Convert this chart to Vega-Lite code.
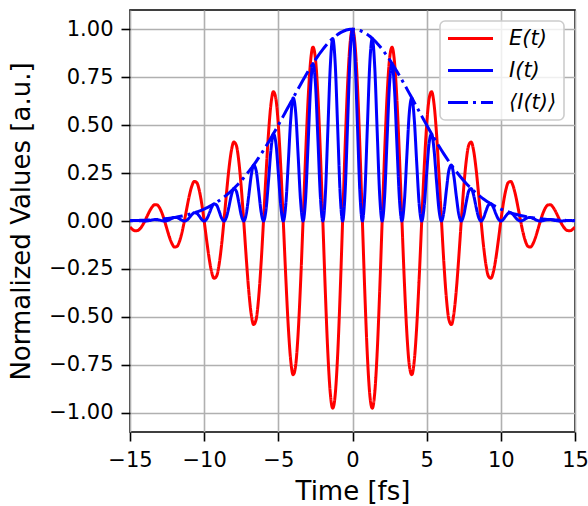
{
  "$schema": "https://vega.github.io/schema/vega-lite/v6.json",
  "width": 445,
  "height": 422,
  "autosize": {"type": "none"},
  "padding": {"left": 130, "top": 10, "right": 13, "bottom": 74},
  "background": "white",
  "data": {"values": [
    {"t":-15,"E":-0.0313,"I":0.001,"Env":0.002},
    {"t":-14.8333,"E":-0.0438,"I":0.0019,"Env":0.0022},
    {"t":-14.6667,"E":-0.0507,"I":0.0026,"Env":0.0026},
    {"t":-14.5,"E":-0.0501,"I":0.0025,"Env":0.0029},
    {"t":-14.3333,"E":-0.041,"I":0.0017,"Env":0.0034},
    {"t":-14.1667,"E":-0.0237,"I":0.0006,"Env":0.0038},
    {"t":-14,"E":0,"I":0,"Env":0.0044},
    {"t":-13.8333,"E":0.027,"I":0.0007,"Env":0.005},
    {"t":-13.6667,"E":0.0531,"I":0.0028,"Env":0.0056},
    {"t":-13.5,"E":0.0739,"I":0.0055,"Env":0.0064},
    {"t":-13.3333,"E":0.0851,"I":0.0072,"Env":0.0072},
    {"t":-13.1667,"E":0.0835,"I":0.007,"Env":0.0082},
    {"t":-13,"E":0.0679,"I":0.0046,"Env":0.0092},
    {"t":-12.8333,"E":0.039,"I":0.0015,"Env":0.0104},
    {"t":-12.6667,"E":0,"I":0,"Env":0.0117},
    {"t":-12.5,"E":-0.0439,"I":0.0019,"Env":0.0131},
    {"t":-12.3333,"E":-0.0858,"I":0.0074,"Env":0.0147},
    {"t":-12.1667,"E":-0.1187,"I":0.0141,"Env":0.0165},
    {"t":-12,"E":-0.1358,"I":0.0185,"Env":0.0185},
    {"t":-11.8333,"E":-0.1326,"I":0.0176,"Env":0.0206},
    {"t":-11.6667,"E":-0.1072,"I":0.0115,"Env":0.023},
    {"t":-11.5,"E":-0.0612,"I":0.0037,"Env":0.0256},
    {"t":-11.3333,"E":0,"I":0,"Env":0.0284},
    {"t":-11.1667,"E":0.0679,"I":0.0046,"Env":0.0315},
    {"t":-11,"E":0.1321,"I":0.0175,"Env":0.0349},
    {"t":-10.8333,"E":0.1816,"I":0.033,"Env":0.0386},
    {"t":-10.6667,"E":0.2065,"I":0.0427,"Env":0.0427},
    {"t":-10.5,"E":0.2004,"I":0.0402,"Env":0.047},
    {"t":-10.3333,"E":0.1609,"I":0.0259,"Env":0.0518},
    {"t":-10.1667,"E":0.0913,"I":0.0083,"Env":0.0569},
    {"t":-10,"E":0,"I":0,"Env":0.0625},
    {"t":-9.8333,"E":-0.1002,"I":0.01,"Env":0.0685},
    {"t":-9.6667,"E":-0.1936,"I":0.0375,"Env":0.075},
    {"t":-9.5,"E":-0.2644,"I":0.0699,"Env":0.0819},
    {"t":-9.3333,"E":-0.2989,"I":0.0894,"Env":0.0894},
    {"t":-9.1667,"E":-0.2882,"I":0.0831,"Env":0.0973},
    {"t":-9,"E":-0.2301,"I":0.0529,"Env":0.1059},
    {"t":-8.8333,"E":-0.1297,"I":0.0168,"Env":0.1149},
    {"t":-8.6667,"E":0,"I":0,"Env":0.1246},
    {"t":-8.5,"E":0.1406,"I":0.0198,"Env":0.1349},
    {"t":-8.3333,"E":0.27,"I":0.0729,"Env":0.1458},
    {"t":-8.1667,"E":0.3665,"I":0.1343,"Env":0.1574},
    {"t":-8,"E":0.4118,"I":0.1696,"Env":0.1696},
    {"t":-7.8333,"E":0.3946,"I":0.1557,"Env":0.1825},
    {"t":-7.6667,"E":0.313,"I":0.098,"Env":0.196},
    {"t":-7.5,"E":0.1755,"I":0.0308,"Env":0.2102},
    {"t":-7.3333,"E":0,"I":0,"Env":0.2251},
    {"t":-7.1667,"E":-0.1878,"I":0.0353,"Env":0.2408},
    {"t":-7,"E":-0.3585,"I":0.1285,"Env":0.257},
    {"t":-6.8333,"E":-0.4836,"I":0.2339,"Env":0.274},
    {"t":-6.6667,"E":-0.54,"I":0.2916,"Env":0.2916},
    {"t":-6.5,"E":-0.5143,"I":0.2645,"Env":0.3099},
    {"t":-6.3333,"E":-0.4055,"I":0.1644,"Env":0.3289},
    {"t":-6.1667,"E":-0.2259,"I":0.051,"Env":0.3484},
    {"t":-6,"E":0,"I":0,"Env":0.3686},
    {"t":-5.8333,"E":0.2388,"I":0.057,"Env":0.3893},
    {"t":-5.6667,"E":0.4531,"I":0.2053,"Env":0.4105},
    {"t":-5.5,"E":0.6074,"I":0.369,"Env":0.4323},
    {"t":-5.3333,"E":0.6741,"I":0.4545,"Env":0.4545},
    {"t":-5.1667,"E":0.6381,"I":0.4072,"Env":0.4771},
    {"t":-5,"E":0.5,"I":0.25,"Env":0.5},
    {"t":-4.8333,"E":0.2768,"I":0.0766,"Env":0.5233},
    {"t":-4.6667,"E":0,"I":0,"Env":0.5467},
    {"t":-4.5,"E":-0.289,"I":0.0835,"Env":0.5704},
    {"t":-4.3333,"E":-0.5451,"I":0.2971,"Env":0.5942},
    {"t":-4.1667,"E":-0.7263,"I":0.5275,"Env":0.618},
    {"t":-4,"E":-0.8011,"I":0.6417,"Env":0.6417},
    {"t":-3.8333,"E":-0.7536,"I":0.5679,"Env":0.6654},
    {"t":-3.6667,"E":-0.5869,"I":0.3444,"Env":0.6888},
    {"t":-3.5,"E":-0.3229,"I":0.1043,"Env":0.712},
    {"t":-3.3333,"E":0,"I":0,"Env":0.7349},
    {"t":-3.1667,"E":0.333,"I":0.1109,"Env":0.7573},
    {"t":-3,"E":0.6242,"I":0.3896,"Env":0.7792},
    {"t":-2.8333,"E":0.8266,"I":0.6832,"Env":0.8005},
    {"t":-2.6667,"E":0.9061,"I":0.8211,"Env":0.8211},
    {"t":-2.5,"E":0.8472,"I":0.7178,"Env":0.8409},
    {"t":-2.3333,"E":0.6557,"I":0.4299,"Env":0.8599},
    {"t":-2.1667,"E":0.3586,"I":0.1286,"Env":0.878},
    {"t":-2,"E":0,"I":0,"Env":0.895},
    {"t":-1.8333,"E":-0.3653,"I":0.1334,"Env":0.911},
    {"t":-1.6667,"E":-0.6804,"I":0.4629,"Env":0.9259},
    {"t":-1.5,"E":-0.8955,"I":0.8019,"Env":0.9395},
    {"t":-1.3333,"E":-0.9757,"I":0.9519,"Env":0.9519},
    {"t":-1.1667,"E":-0.9066,"I":0.8219,"Env":0.963},
    {"t":-1,"E":-0.6974,"I":0.4863,"Env":0.9727},
    {"t":-0.8333,"E":-0.379,"I":0.1437,"Env":0.9809},
    {"t":-0.6667,"E":0,"I":0,"Env":0.9878},
    {"t":-0.5,"E":0.3814,"I":0.1454,"Env":0.9931},
    {"t":-0.3333,"E":0.706,"I":0.4985,"Env":0.9969},
    {"t":-0.1667,"E":0.9235,"I":0.8529,"Env":0.9992},
    {"t":0,"E":1,"I":1,"Env":1},
    {"t":0.1667,"E":0.9235,"I":0.8529,"Env":0.9992},
    {"t":0.3333,"E":0.706,"I":0.4985,"Env":0.9969},
    {"t":0.5,"E":0.3814,"I":0.1454,"Env":0.9931},
    {"t":0.6667,"E":0,"I":0,"Env":0.9878},
    {"t":0.8333,"E":-0.379,"I":0.1437,"Env":0.9809},
    {"t":1,"E":-0.6974,"I":0.4863,"Env":0.9727},
    {"t":1.1667,"E":-0.9066,"I":0.8219,"Env":0.963},
    {"t":1.3333,"E":-0.9757,"I":0.9519,"Env":0.9519},
    {"t":1.5,"E":-0.8955,"I":0.8019,"Env":0.9395},
    {"t":1.6667,"E":-0.6804,"I":0.4629,"Env":0.9259},
    {"t":1.8333,"E":-0.3653,"I":0.1334,"Env":0.911},
    {"t":2,"E":0,"I":0,"Env":0.895},
    {"t":2.1667,"E":0.3586,"I":0.1286,"Env":0.878},
    {"t":2.3333,"E":0.6557,"I":0.4299,"Env":0.8599},
    {"t":2.5,"E":0.8472,"I":0.7178,"Env":0.8409},
    {"t":2.6667,"E":0.9061,"I":0.8211,"Env":0.8211},
    {"t":2.8333,"E":0.8266,"I":0.6832,"Env":0.8005},
    {"t":3,"E":0.6242,"I":0.3896,"Env":0.7792},
    {"t":3.1667,"E":0.333,"I":0.1109,"Env":0.7573},
    {"t":3.3333,"E":0,"I":0,"Env":0.7349},
    {"t":3.5,"E":-0.3229,"I":0.1043,"Env":0.712},
    {"t":3.6667,"E":-0.5869,"I":0.3444,"Env":0.6888},
    {"t":3.8333,"E":-0.7536,"I":0.5679,"Env":0.6654},
    {"t":4,"E":-0.8011,"I":0.6417,"Env":0.6417},
    {"t":4.1667,"E":-0.7263,"I":0.5275,"Env":0.618},
    {"t":4.3333,"E":-0.5451,"I":0.2971,"Env":0.5942},
    {"t":4.5,"E":-0.289,"I":0.0835,"Env":0.5704},
    {"t":4.6667,"E":0,"I":0,"Env":0.5467},
    {"t":4.8333,"E":0.2768,"I":0.0766,"Env":0.5233},
    {"t":5,"E":0.5,"I":0.25,"Env":0.5},
    {"t":5.1667,"E":0.6381,"I":0.4072,"Env":0.4771},
    {"t":5.3333,"E":0.6741,"I":0.4545,"Env":0.4545},
    {"t":5.5,"E":0.6074,"I":0.369,"Env":0.4323},
    {"t":5.6667,"E":0.4531,"I":0.2053,"Env":0.4105},
    {"t":5.8333,"E":0.2388,"I":0.057,"Env":0.3893},
    {"t":6,"E":0,"I":0,"Env":0.3686},
    {"t":6.1667,"E":-0.2259,"I":0.051,"Env":0.3484},
    {"t":6.3333,"E":-0.4055,"I":0.1644,"Env":0.3289},
    {"t":6.5,"E":-0.5143,"I":0.2645,"Env":0.3099},
    {"t":6.6667,"E":-0.54,"I":0.2916,"Env":0.2916},
    {"t":6.8333,"E":-0.4836,"I":0.2339,"Env":0.274},
    {"t":7,"E":-0.3585,"I":0.1285,"Env":0.257},
    {"t":7.1667,"E":-0.1878,"I":0.0353,"Env":0.2408},
    {"t":7.3333,"E":0,"I":0,"Env":0.2251},
    {"t":7.5,"E":0.1755,"I":0.0308,"Env":0.2102},
    {"t":7.6667,"E":0.313,"I":0.098,"Env":0.196},
    {"t":7.8333,"E":0.3946,"I":0.1557,"Env":0.1825},
    {"t":8,"E":0.4118,"I":0.1696,"Env":0.1696},
    {"t":8.1667,"E":0.3665,"I":0.1343,"Env":0.1574},
    {"t":8.3333,"E":0.27,"I":0.0729,"Env":0.1458},
    {"t":8.5,"E":0.1406,"I":0.0198,"Env":0.1349},
    {"t":8.6667,"E":0,"I":0,"Env":0.1246},
    {"t":8.8333,"E":-0.1297,"I":0.0168,"Env":0.1149},
    {"t":9,"E":-0.2301,"I":0.0529,"Env":0.1059},
    {"t":9.1667,"E":-0.2882,"I":0.0831,"Env":0.0973},
    {"t":9.3333,"E":-0.2989,"I":0.0894,"Env":0.0894},
    {"t":9.5,"E":-0.2644,"I":0.0699,"Env":0.0819},
    {"t":9.6667,"E":-0.1936,"I":0.0375,"Env":0.075},
    {"t":9.8333,"E":-0.1002,"I":0.01,"Env":0.0685},
    {"t":10,"E":0,"I":0,"Env":0.0625},
    {"t":10.1667,"E":0.0913,"I":0.0083,"Env":0.0569},
    {"t":10.3333,"E":0.1609,"I":0.0259,"Env":0.0518},
    {"t":10.5,"E":0.2004,"I":0.0402,"Env":0.047},
    {"t":10.6667,"E":0.2065,"I":0.0427,"Env":0.0427},
    {"t":10.8333,"E":0.1816,"I":0.033,"Env":0.0386},
    {"t":11,"E":0.1321,"I":0.0175,"Env":0.0349},
    {"t":11.1667,"E":0.0679,"I":0.0046,"Env":0.0315},
    {"t":11.3333,"E":0,"I":0,"Env":0.0284},
    {"t":11.5,"E":-0.0612,"I":0.0037,"Env":0.0256},
    {"t":11.6667,"E":-0.1072,"I":0.0115,"Env":0.023},
    {"t":11.8333,"E":-0.1326,"I":0.0176,"Env":0.0206},
    {"t":12,"E":-0.1358,"I":0.0185,"Env":0.0185},
    {"t":12.1667,"E":-0.1187,"I":0.0141,"Env":0.0165},
    {"t":12.3333,"E":-0.0858,"I":0.0074,"Env":0.0147},
    {"t":12.5,"E":-0.0439,"I":0.0019,"Env":0.0131},
    {"t":12.6667,"E":0,"I":0,"Env":0.0117},
    {"t":12.8333,"E":0.039,"I":0.0015,"Env":0.0104},
    {"t":13,"E":0.0679,"I":0.0046,"Env":0.0092},
    {"t":13.1667,"E":0.0835,"I":0.007,"Env":0.0082},
    {"t":13.3333,"E":0.0851,"I":0.0072,"Env":0.0072},
    {"t":13.5,"E":0.0739,"I":0.0055,"Env":0.0064},
    {"t":13.6667,"E":0.0531,"I":0.0028,"Env":0.0056},
    {"t":13.8333,"E":0.027,"I":0.0007,"Env":0.005},
    {"t":14,"E":0,"I":0,"Env":0.0044},
    {"t":14.1667,"E":-0.0237,"I":0.0006,"Env":0.0038},
    {"t":14.3333,"E":-0.041,"I":0.0017,"Env":0.0034},
    {"t":14.5,"E":-0.0501,"I":0.0025,"Env":0.0029},
    {"t":14.6667,"E":-0.0507,"I":0.0026,"Env":0.0026},
    {"t":14.8333,"E":-0.0438,"I":0.0019,"Env":0.0022},
    {"t":15,"E":-0.0313,"I":0.001,"Env":0.002}
  ]},
  "transform": [{"fold": ["E", "I", "Env"], "as": ["series", "value"]}],
  "mark": {"type": "line", "interpolate": "monotone", "strokeWidth": 3, "clip": true},
  "encoding": {
    "x": {
      "field": "t", "type": "quantitative",
      "scale": {"domain": [-15, 15], "nice": false, "zero": false},
      "axis": {"title": "Time [fs]", "values": [-15, -10, -5, 0, 5, 10, 15], "titlePadding": 8}
    },
    "y": {
      "field": "value", "type": "quantitative",
      "scale": {"domain": [-1.1, 1.1], "nice": false, "zero": false},
      "axis": {"title": "Normalized Values [a.u.]", "values": [-1, -0.75, -0.5, -0.25, 0, 0.25, 0.5, 0.75, 1], "format": ".2f", "titlePadding": 14}
    },
    "color": {
      "field": "series", "type": "nominal",
      "scale": {"domain": ["E", "I", "Env"], "range": ["#ff0000", "#0000ff", "#0000ff"]},
      "legend": {
        "title": null,
        "labelExpr": "datum.label == 'E' ? 'E(t)' : datum.label == 'I' ? 'I(t)' : '⟨I(t)⟩'"
      }
    },
    "strokeDash": {
      "field": "series", "type": "nominal",
      "scale": {"domain": ["E", "I", "Env"], "range": [[1, 0], [1, 0], [20, 5, 3, 5]]},
      "legend": {
        "title": null,
        "labelExpr": "datum.label == 'E' ? 'E(t)' : datum.label == 'I' ? 'I(t)' : '⟨I(t)⟩'"
      }
    }
  },
  "config": {
    "font": "DejaVu Sans",
    "view": {"stroke": "black", "strokeWidth": 1.6},
    "axis": {
      "domain": false,
      "grid": true,
      "gridColor": "#b0b0b0",
      "gridWidth": 1.6,
      "gridOpacity": 1,
      "ticks": true,
      "tickColor": "black",
      "tickSize": 9,
      "tickWidth": 1.6,
      "labelFont": "DejaVu Sans",
      "labelFontSize": 21,
      "labelColor": "black",
      "labelPadding": 8,
      "labelFlush": false,
      "labelOverlap": false,
      "titleFont": "DejaVu Sans",
      "titleFontSize": 26,
      "titleFontWeight": "normal",
      "titleColor": "black"
    },
    "legend": {
      "orient": "top-right",
      "offset": 11,
      "padding": 7,
      "strokeColor": "#cccccc",
      "strokeWidth": 1.6,
      "cornerRadius": 5,
      "fillColor": "rgba(255,255,255,0.8)",
      "labelFont": "DejaVu Sans",
      "labelFontSize": 21,
      "labelFontStyle": "italic",
      "labelColor": "black",
      "labelOffset": 41,
      "symbolType": "M-1.056,0H3.944",
      "symbolSize": 324,
      "symbolStrokeWidth": 3,
      "rowPadding": 10,
      "labelLimit": 200
    }
  }
}
